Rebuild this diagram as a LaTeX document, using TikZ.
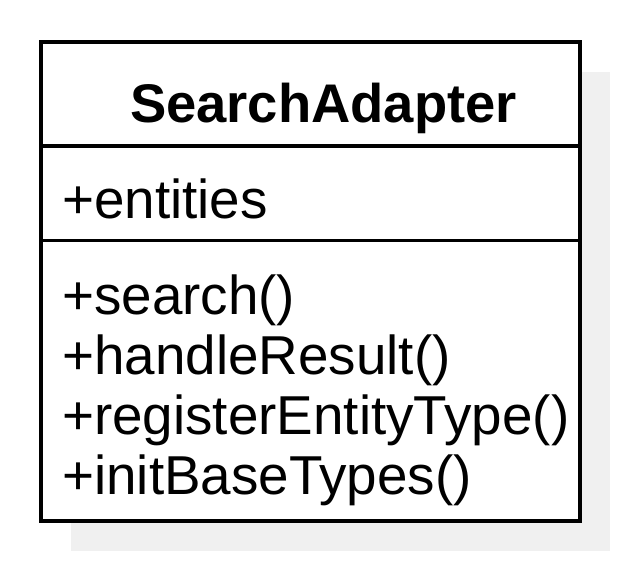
\documentclass[tikz,border=0pt]{standalone}
\usepackage{fontspec}
\setmainfont{Liberation Sans}
\definecolor{shadowgray}{HTML}{F0F0F0}
\begin{document}
\begin{tikzpicture}[x=1pt,y=-1pt,
  frame/.style={draw=black,line width=3.5pt},
  shadowbox/.style={fill=shadowgray,draw=none},
  member/.style={anchor=base west,inner sep=0pt,font=\fontsize{54.8}{60}\selectfont},
  classname/.style={anchor=base,inner sep=0pt,font=\fontsize{54.4}{60}\selectfont\bfseries}]
\useasboundingbox (0,0) rectangle (623,563);
% drop shadow
\fill[shadowbox] (71,72) rectangle (610,551);
% class box and compartment separators
\filldraw[frame,fill=white] (41,42) rectangle (580,521);
\draw[frame] (41,146) -- (580,146);
\draw[frame] (41,240.5) -- (580,240.5);
% class name
\node[classname] (name) at (323.5,122) {SearchAdapter};
% attributes
\node[member] (attr) at (62,218) {+entities};
% operations
\node[member] (op1) at (62,314) {+search()};
\node[member] (op2) at (62,374) {+handleResult()};
\node[member] (op3) at (62,434) {+registerEntityType()};
\node[member] (op4) at (62,494) {+initBaseTypes()};
\end{tikzpicture}
\end{document}
